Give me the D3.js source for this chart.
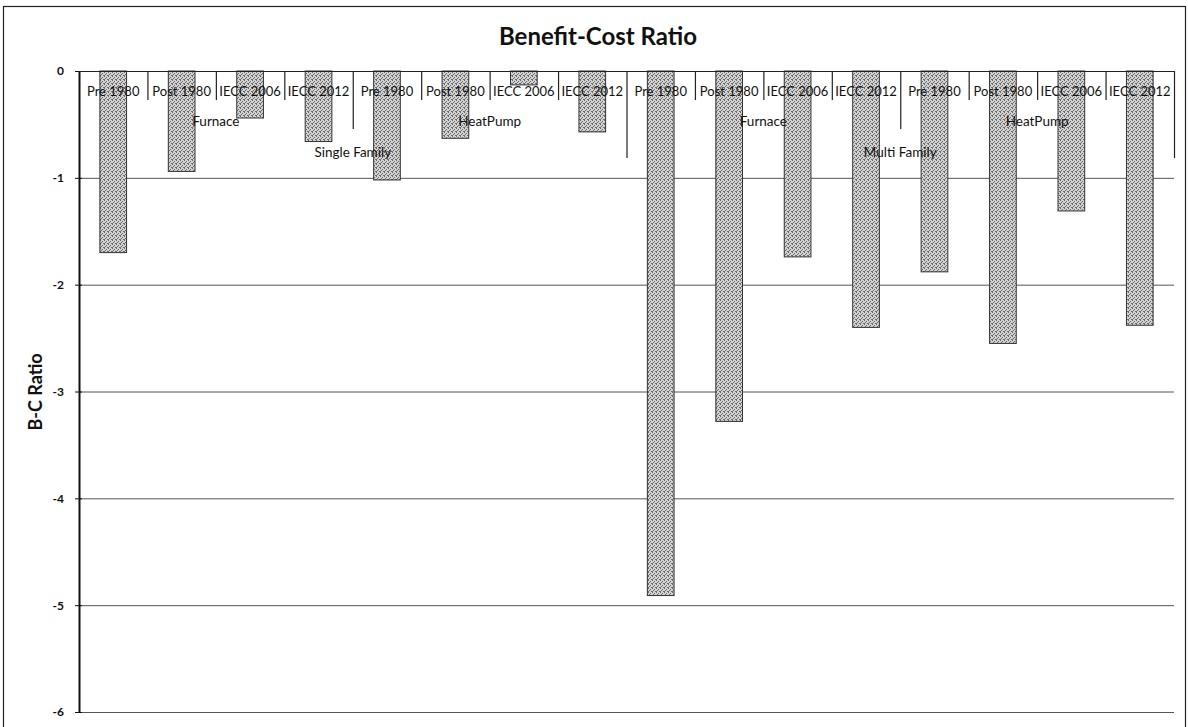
<!DOCTYPE html>
<html><head><meta charset="utf-8">
<script src="https://cdn.jsdelivr.net/npm/d3@7"></script>
<style>
html,body{margin:0;padding:0;background:#fff;}
svg{display:block;font-family:Lato,"Open Sans",sans-serif;}
</style></head>
<body>
<svg id="chart" width="1188" height="727"></svg>
<script>
// ---- data ----
const vintages = ["Pre 1980", "Post 1980", "IECC 2006", "IECC 2012"];
const systems = ["Furnace", "HeatPump"];
const buildings = ["Single Family", "Multi Family"];
// B-C ratio per bar, order: building > system > vintage
const sfFurnace = [-1.70, -0.94, -0.44, -0.66];
const sfHeatPump = [-1.02, -0.63, -0.13, -0.57];
const mfFurnace = [-4.91, -3.28, -1.74, -2.40];
const mfHeatPump = [-1.88, -2.55, -1.31, -2.38];
const yTicks = [0, -1, -2, -3, -4, -5, -6];
const titleText = "Benefit-Cost Ratio";
const yTitle = "B-C Ratio";

(function () {
const values = [...sfFurnace, ...sfHeatPump, ...mfFurnace, ...mfHeatPump];
const rows = values.map((v, i) => ({
  i, v,
  vintage: vintages[i % 4],
  system: systems[Math.floor(i / 4) % 2],
  building: buildings[Math.floor(i / 8)]
}));

const svg = d3.select("#chart");
const pLeft = 79, pRight = 1174, pTop = 71, pBottom = 712;

// pattern for the stippled bar fill
const defs = svg.append("defs");
const pat = defs.append("pattern").attr("id", "stip").attr("width", 4).attr("height", 4)
  .attr("patternUnits", "userSpaceOnUse");
pat.append("rect").attr("width", 4).attr("height", 4).attr("fill", "#d2d2d2");
[[0,0],[2,1],[1,2],[3,3],[0,3]].forEach(([px,py]) =>
  pat.append("rect").attr("x", px).attr("y", py).attr("width", 1).attr("height", 1).attr("fill", "#6a6a6a"));

// outer chart border
svg.append("rect").attr("x", 3.5).attr("y", 6.5).attr("width", 1182).attr("height", 760)
  .attr("fill", "none").attr("stroke", "#222").attr("stroke-width", 1.2);

const x = d3.scaleBand().domain(rows.map(d => d.i)).range([pLeft, pRight]).padding(0);
const y = d3.scaleLinear().domain([-6, 0]).range([pBottom, pTop]);

// gridlines
svg.append("g").selectAll("line").data(yTicks.filter(t => t !== 0)).join("line")
  .attr("x1", pLeft).attr("x2", pRight)
  .attr("y1", d => y(d) + 0.5).attr("y2", d => y(d) + 0.5)
  .attr("stroke", "#555").attr("stroke-width", 1);

// bars
const bw = x.bandwidth() * 0.39;
svg.append("g").selectAll("rect").data(rows).join("rect")
  .attr("x", d => x(d.i) + (x.bandwidth() - bw) / 2)
  .attr("y", y(0))
  .attr("width", bw)
  .attr("height", d => y(d.v) - y(0))
  .attr("fill", "url(#stip)")
  .attr("stroke", "#333").attr("stroke-width", 1);

// y axis
const yAxis = svg.append("g").attr("transform", `translate(${pLeft},0)`)
  .call(d3.axisLeft(y).tickValues(yTicks).tickFormat(d => String(d)).tickSize(4).tickSizeOuter(0));
yAxis.select(".domain").attr("stroke", "#111").attr("stroke-width", 2);
yAxis.selectAll(".tick line").attr("stroke", "#111").attr("x2", -4).attr("x1", 3);
yAxis.selectAll("text").attr("font-size", 12).attr("font-weight", "bold").attr("fill", "#111")
  .attr("x", -15).attr("font-family", "Lato, sans-serif");

// category axis line at zero
svg.append("line").attr("x1", pLeft).attr("x2", pRight).attr("y1", y(0) + 0.5).attr("y2", y(0) + 0.5)
  .attr("stroke", "#222").attr("stroke-width", 1.2);

// multi-level separators
const n = rows.length;
const edge = b => (b < n ? x(b) : pRight);
svg.append("g").selectAll("line").data(d3.range(1, n + 1)).join("line")
  .attr("x1", b => edge(b) + 0.5)
  .attr("x2", b => edge(b) + 0.5)
  .attr("y1", y(0))
  .attr("y2", b => b % 8 === 0 ? 158 : (b % 4 === 0 ? 129 : 100))
  .attr("stroke", "#222").attr("stroke-width", 1.2);

// level 1 labels
svg.append("g").selectAll("text").data(rows).join("text")
  .attr("x", d => x(d.i) + x.bandwidth() / 2).attr("y", 95.5)
  .attr("text-anchor", "middle").attr("font-size", 13).attr("fill", "#111")
  .text(d => d.vintage);

// level 2 labels
const sysGroups = d3.range(4).map(k => ({ k, name: systems[k % 2] }));
svg.append("g").selectAll("text").data(sysGroups).join("text")
  .attr("x", g => (edge(g.k * 4) + edge(g.k * 4 + 4)) / 2)
  .attr("y", 125.5).attr("text-anchor", "middle").attr("font-size", 13.5).attr("fill", "#111")
  .text(g => g.name);

// level 3 labels
const bGroups = buildings.map((name, k) => ({ k, name }));
svg.append("g").selectAll("text").data(bGroups).join("text")
  .attr("x", g => (edge(g.k * 8) + edge(g.k * 8 + 8)) / 2)
  .attr("y", 156.5).attr("text-anchor", "middle").attr("font-size", 13.5).attr("fill", "#111")
  .text(g => g.name);

// title
svg.append("text").attr("x", 598).attr("y", 45).attr("text-anchor", "middle")
  .attr("font-size", 24).attr("font-weight", "bold").attr("fill", "#111").text(titleText);

// y axis title
svg.append("text").attr("transform", `translate(42,392) rotate(-90)`)
  .attr("text-anchor", "middle").attr("font-size", 18).attr("font-weight", "bold").attr("fill", "#111")
  .text(yTitle);
})();
</script>
</body></html>
